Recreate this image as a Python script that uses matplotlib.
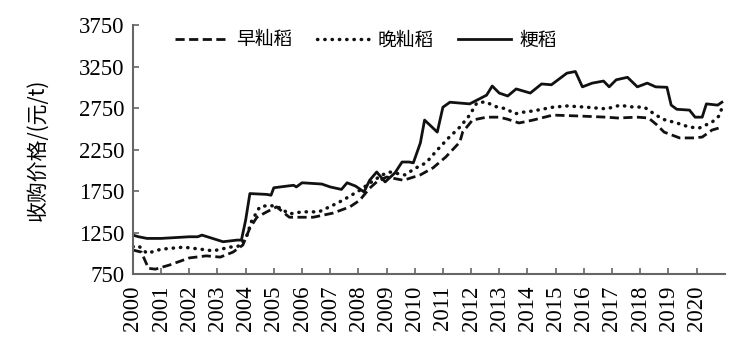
import matplotlib
matplotlib.use("Agg")
import matplotlib.pyplot as plt

# 早籼稻 (early indica)
early_t = [2000.0, 2000.3, 2000.55, 2000.8, 2001.3, 2002.0, 2002.6, 2003.1, 2003.55, 2003.9,
           2004.15, 2004.4, 2004.75, 2005.1, 2005.55, 2006.4, 2007.1, 2007.7, 2008.05, 2008.4,
           2008.65, 2009.0, 2009.6, 2010.2, 2010.65, 2011.1, 2011.6, 2011.7, 2012.05, 2012.55,
           2013.0, 2013.3, 2013.7, 2014.2, 2014.9, 2015.75, 2016.8, 2017.2, 2017.9, 2018.3,
           2018.6, 2018.85, 2019.4, 2019.85, 2020.2, 2020.55, 2020.9]
early_v = [1040, 1015, 820, 810, 860, 945, 970, 955, 1015, 1100,
           1305, 1435, 1500, 1560, 1435, 1435, 1485, 1560, 1640, 1785,
           1860, 1920, 1880, 1945, 2030, 2160, 2340, 2460, 2605, 2640,
           2640, 2615, 2570, 2605, 2665, 2655, 2640, 2630, 2640, 2630,
           2545, 2460, 2390, 2390, 2400, 2485, 2520]

# 晚籼稻 (late indica)
late_t = [2000.0, 2000.2, 2000.5, 2001.0, 2001.8, 2002.4, 2002.85, 2003.45, 2003.8, 2004.05,
          2004.2, 2004.5, 2004.85, 2005.2, 2005.55, 2006.0, 2006.6, 2007.1, 2007.45, 2008.05,
          2008.4, 2008.85, 2009.1, 2009.65, 2010.05, 2010.4, 2010.8, 2011.2, 2011.6, 2011.95,
          2012.2, 2012.5, 2012.9, 2013.25, 2013.55, 2013.85, 2014.2, 2014.9, 2015.4, 2016.1,
          2016.8, 2017.3, 2017.6, 2018.15, 2018.45, 2018.8, 2019.3, 2019.75, 2020.1, 2020.55,
          2020.8, 2020.9]
late_v = [1080, 1090, 1000, 1050, 1075, 1050, 1030, 1075, 1090, 1220,
          1380, 1560, 1580, 1550, 1475, 1500, 1500, 1580, 1640, 1760,
          1845, 1945, 1980, 1945, 2030, 2090, 2245, 2390, 2520, 2665,
          2810, 2825, 2765, 2740, 2680, 2700, 2715, 2760, 2775, 2760,
          2740, 2785, 2765, 2760, 2690, 2615, 2570, 2520, 2510, 2580,
          2655, 2750]

# 粳稻 (japonica)
japonica_t = [2000.0, 2000.2, 2000.5, 2001.0, 2001.5, 2002.0, 2002.3, 2002.45, 2003.2, 2003.7,
              2003.85, 2004.0, 2004.15, 2004.75, 2004.9, 2005.0, 2005.7, 2005.8, 2006.0, 2006.7,
              2007.0, 2007.4, 2007.6, 2007.9, 2008.2, 2008.4, 2008.65, 2008.95, 2009.3, 2009.55,
              2009.8, 2009.95, 2010.2, 2010.35, 2010.8, 2011.0, 2011.25, 2011.95, 2012.55, 2012.75,
              2013.0, 2013.3, 2013.6, 2014.1, 2014.5, 2014.85, 2015.4, 2015.7, 2015.95, 2016.3,
              2016.7, 2016.9, 2017.15, 2017.55, 2017.9, 2018.25, 2018.55, 2018.95, 2019.1, 2019.3,
              2019.75, 2019.95, 2020.2, 2020.35, 2020.75, 2020.9]
japonica_v = [1220, 1200, 1180, 1180, 1190, 1200, 1200, 1220, 1140, 1160,
              1160, 1400, 1720, 1710, 1700, 1790, 1820, 1800, 1850, 1835,
              1800, 1770, 1850, 1810, 1740, 1880, 1980, 1860, 1970, 2100,
              2100, 2090, 2330, 2605, 2460, 2760, 2820, 2800, 2905, 3015,
              2930, 2895, 2980, 2930, 3040, 3030, 3170, 3190, 3005, 3050,
              3075, 3005, 3090, 3120, 3005, 3050, 3005, 3000, 2785, 2735,
              2725, 2640, 2640, 2800, 2785, 2820]

years = list(range(2000, 2021))

plt.rcParams['font.family'] = ['Liberation Serif', 'Noto Sans CJK SC']

fig = plt.figure(figsize=(7.51, 3.47), dpi=100)
ax = fig.add_axes([0.177, 0.21, 0.788, 0.718])

ax.plot(early_t, early_v, color='#111111', lw=2.0, linestyle=(0, (3.3, 1.6)), label='早籼稻')
ax.plot(late_t, late_v, color='#111111', lw=2.5, linestyle=(0, (0.1, 2.0)),
        dash_capstyle='round', label='晚籼稻')
ax.plot(japonica_t, japonica_v, color='#111111', lw=2.0, label='粳稻')

ax.set_xlim(2000, 2021)
ax.set_ylim(750, 3750)
ax.set_yticks([750, 1250, 1750, 2250, 2750, 3250, 3750])
ax.set_xticks(years)
ax.set_xticklabels([str(y) for y in years], rotation=90)

for side in ['top', 'right']:
    ax.spines[side].set_visible(False)
for side in ['left', 'bottom']:
    ax.spines[side].set_color('#666666')
    ax.spines[side].set_linewidth(1.5)

ax.tick_params(direction='in', length=4, width=1.2, color='#666666', labelsize=16.5, pad=6)
ax.tick_params(axis='x', pad=8)

ax.set_ylabel('收购价格/(元/t)', fontsize=15, family=['Noto Sans CJK SC'], labelpad=22)

ax.legend(loc='center', bbox_to_anchor=(0.394, 0.94), ncol=3, frameon=False,
          prop={'family': 'Noto Sans CJK SC', 'size': 13.5},
          handlelength=2.8, columnspacing=1.3, handletextpad=0.45)

fig.savefig('out.png', dpi=100)
